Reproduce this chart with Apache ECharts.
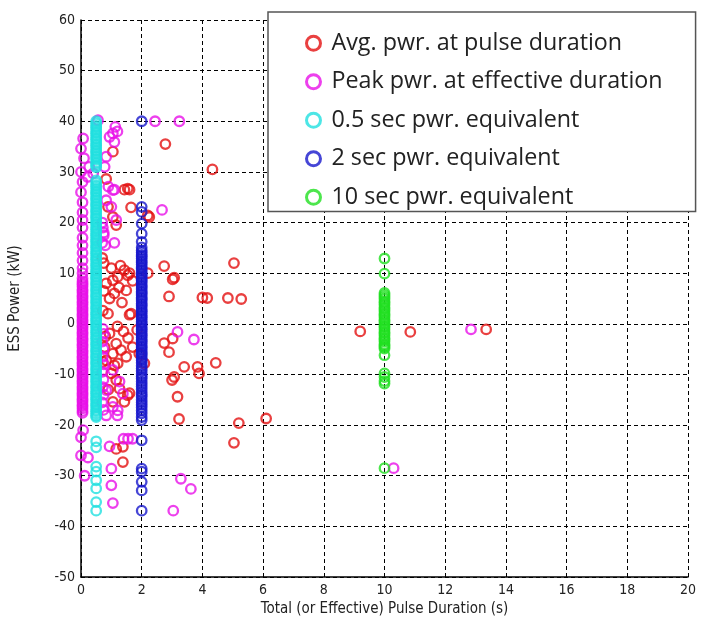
<!DOCTYPE html>
<html>
<head>
<meta charset="utf-8">
<script src="https://cdn.jsdelivr.net/npm/echarts@6/dist/echarts.min.js"></script>
<style>
html, body { margin: 0; padding: 0; background: #fff; }
#main { width: 701px; height: 624px; }
</style>
</head>
<body>
<div id="main"></div>
<script>
var seriesNames = ['Avg. pwr. at pulse duration', 'Peak pwr. at effective duration',
  '0.5 sec pwr. equivalent', '2 sec pwr. equivalent', '10 sec pwr. equivalent'];

// avg power at pulse duration [duration, kW]
var avgPts = [
  [2.78,35.5],[4.33,30.5],[1.05,34],[0.83,28.6],[1.43,26.5],[1.6,26.5],[1.54,26.7],[1.65,23],[0.89,23.1],
  [2.2,21.4],[1.05,21.1],[1.16,19.5],[2.25,21.1],[0.7,13],[0.75,12],
  [2.74,11.4],[2.2,10],[3.07,9.1],[3.02,8.8],[2.9,5.4],[4.0,5.2],[4.16,5.1],[4.84,5.1],[5.28,4.9],[5.04,12],
  [1.43,10.6],[1.54,9.6],[1.05,8.6],[0.83,8.0],[1.49,6.6],[0.94,5.0],[0.72,2.6],[0.89,2.0],[1.21,9.3],
  [1.65,2],[1.6,1.8],[1.3,11.5],[1.0,11],[1.7,8.5],[1.1,6],[1.35,4.2],[0.75,6.5],[1.6,10],[1.25,7.2],
  [0.94,-1.9],[1.16,-3.9],[0.78,-4.6],[1.32,-5.2],[1.05,-5.9],[0.72,-7.5],[1.21,-7.8],[1.0,-9.8],[1.7,-4.6],
  [1.92,-5.9],[2.09,-7.8],[2.74,-3.8],[3.02,-2.9],[2.9,-5.6],[3.4,-8.5],[3.84,-8.5],[3.89,-9.8],[4.44,-7.7],
  [3.07,-10.5],[3.0,-11.1],[3.18,-14.4],[3.23,-18.8],[5.2,-19.6],[6.1,-18.7],[5.04,-23.5],
  [1.16,-11.1],[1.05,-15.4],[1.43,-15.4],[1.54,-14.1],[1.16,-24.7],[1.38,-24.3],[1.38,-27.3],[1.49,-6.5],
  [1.1,-8.2],[0.83,-7.2],[1.27,-12.8],[1.6,-13.7],[0.9,-13],[1.4,-1.5],[1.2,-0.5],[0.8,-2.5],[1.55,-2.8],
  [1.85,-1.2],[9.2,-1.5],[10.85,-1.6],[13.35,-1.1]
];

// peak power at effective duration [duration, kW]
var peakPts = [
  [0.56,40.2],[2.44,40],[3.24,40],[1.13,38.9],[1.05,37.6],[0.94,36.9],[1.1,35.9],[1.2,38],[0.07,36.6],
  [0.0,34.6],[0.1,32.7],[0.27,31],[0.83,33],[0.78,31],[0.22,29],[0.4,29.7],[0.0,26],[1.1,26.5],[0.9,27.1],
  [1.05,26.4],[1.16,20.5],[1.0,23.1],[0.83,24.4],[2.67,22.5],[1.1,16],[0.75,18],[0.8,15.5],[0.7,20],
  [0.0,30],[0.05,28],
  [0.72,19],[0.75,17.5],[0.7,16],[0.72,-1],[0.75,-2],[0.7,-3.5],[0.74,-5],[0.72,-6.5],[0.75,-8],[0.7,-9.5],
  [0.74,-11],[0.72,-12.5],[0.75,-14],[0.7,-15.5],[0.74,-17],
  [1.05,-9.1],[1.27,-11.4],[0.83,-13.1],[1.38,-13.8],[1.05,-16.4],[1.21,-17.1],
  [0.07,-21],[0.0,-22.4],[0.0,-26],[0.23,-26.4],[0.12,-30],[0.94,-24.2],[1.0,-28.6],[1.0,-31.9],[1.05,-35.4],
  [1.4,-22.7],[1.55,-22.7],[1.7,-22.7],[0.83,-18.1],[1.2,-18.1],[3.29,-30.6],[3.62,-32.6],[3.04,-36.9],
  [3.18,-1.6],[3.72,-3.1],[10.3,-28.5],[12.85,-1.1]
];
// the packed column of peak points next to the y axis
var peakColX = 0.05;
var peakColY = [24,22,20.5,19,17,15.5,14,12.5,11,10,9,8.4,8,7.7,7.3,6.8,6.5,6.1,5.6,5.3,4.9,4.4,4.1,3.7,
  3.2,2.9,2.5,2,1.7,1.3,0.8,0.5,0.1,-0.4,-0.7,-1.1,-1.6,-1.9,-2.3,-2.8,-3.1,-3.5,-4,-4.3,-4.7,-5.2,-5.5,
  -5.9,-6.4,-6.7,-7.1,-7.6,-7.9,-8.3,-8.8,-9.1,-9.5,-10,-10.3,-10.7,-11.2,-11.5,-11.9,-12.4,-12.7,-13.1,
  -13.6,-13.9,-14.3,-14.8,-15.1,-15.5,-16,-16.3,-16.7,-17.2,-17.6];

// equivalent powers, one duration each
var cyanX = 0.5;
var cyanY = [40,39.6,39.1,38.8,38.4,37.9,37.6,37.2,36.7,36.4,36,35.5,35.2,34.8,34.3,34,33.6,33.1,32.8,
  32.4,31.9,31.6,31.2,30.9,
  28.3,27.9,27.4,27.1,26.7,26.2,25.9,25.5,25,24.7,24.3,23.8,23.5,23.1,22.6,22.3,21.9,21.4,21.1,20.7,
  20.2,19.9,19.5,19,18.7,18.3,17.8,17.5,17.1,16.6,16.3,15.9,15.4,15.1,14.7,14.2,13.9,13.5,13,12.7,12.3,
  11.8,11.5,11.1,10.6,10.3,9.9,9.4,9.1,8.7,8.2,7.9,7.5,7,6.7,6.3,5.8,5.5,5.1,4.6,4.3,3.9,3.4,3.1,2.7,
  2.2,1.9,1.5,1,0.7,0.3,-0.2,-0.5,-0.9,-1.4,-1.7,-2.1,-2.6,-2.9,-3.3,-3.8,-4.1,-4.5,-5,-5.3,-5.7,-6.2,
  -6.5,-6.9,-7.4,-7.7,-8.1,-8.6,-8.9,-9.3,-9.8,-10.1,-10.5,-11,-11.3,-11.7,-12.2,-12.5,-12.9,-13.4,
  -13.7,-14.1,-14.6,-14.9,-15.3,-15.8,-16.1,-16.5,-17,-17.3,-17.7,-18.1,-18.4,
  -23.2,-24.4,-28.2,-29.2,-30.9,-32.5,-35.2,-36.9];

var blueX = 2;
var blueY = [40,23.1,22.1,19.8,17.8,16.2,15.1,14.5,14.1,13.6,13.3,12.9,12.4,12.1,11.7,11.2,10.9,10.5,
  10,9.7,9.3,8.8,8.5,8.1,7.6,7.3,6.9,6.4,6.1,5.7,5.2,4.9,4.5,4,3.7,3.3,2.8,2.5,2.1,1.6,1.3,0.9,0.4,0.1,
  -0.3,-0.8,-1.1,-1.5,-2,-2.3,-2.7,-3.2,-3.5,-3.9,-4.4,-4.7,-5.1,-5.6,-5.9,-6.3,-6.8,-7.2,-7.7,-8.3,
  -8.8,-9.3,-9.9,-10.4,-10.8,-11.4,-11.9,-12.4,-12.9,-13.5,-14,-14.4,-15,-15.5,-16,-16.5,-17.1,-17.7,
  -18.4,-19,-23,-28.6,-29.2,-31.2,-32.9,-36.9];

var greenX = 10;
var greenY = [12.9,9.9,6.1,5.7,5.3,4.9,4.4,4.1,3.7,3.2,2.9,2.5,2,1.7,1.3,0.8,0.5,0.1,-0.4,-0.7,-1.1,-1.6,
  -1.9,-2.3,-2.8,-3.1,-3.5,-4,-4.3,-4.6,-4.9,-6.2,-9.8,-10.5,-11.3,-11.8,-28.5];

var colors = ['#e41010', '#e810e8', '#20e0e0', '#1818cc', '#20e020'];

function colPts(x, ys) {
  return ys.map(function (y) { return [x, y]; });
}

var allData = [avgPts, peakPts.concat(colPts(peakColX, peakColY)), colPts(cyanX, cyanY),
  colPts(blueX, blueY), colPts(greenX, greenY)];

var tickFont = "'Liberation Sans Narrow', 'DejaVu Sans Condensed', sans-serif";

var option = {
  animation: false,
  backgroundColor: '#fff',
  grid: { left: 78, right: 13, top: 20, bottom: 47 },
  legend: {
    orient: 'vertical',
    left: 268,
    top: 12,
    data: seriesNames,
    icon: 'circle',
    itemWidth: 14,
    itemHeight: 14,
    itemGap: 14,
    padding: [19, 33, 2, 37],
    borderColor: '#555',
    borderWidth: 1.5,
    backgroundColor: '#fff',
    itemStyle: { borderWidth: 3 },
    textStyle: { fontFamily: "'Open Sans', sans-serif", fontSize: 23.3, color: '#222', lineHeight: 24.5, padding: [0, 0, 0, 6] }
  },
  xAxis: {
    type: 'value',
    min: 0, max: 20, interval: 2,
    name: 'Total (or Effective) Pulse Duration (s)',
    nameLocation: 'middle',
    nameGap: 22,
    nameTextStyle: { fontFamily: tickFont, fontSize: 15, color: '#222' },
    axisLine: { onZero: false, lineStyle: { color: '#000', width: 1.5 } },
    axisTick: { show: false },
    axisLabel: { fontFamily: tickFont, fontSize: 14, color: '#222', margin: 6 },
    splitLine: { show: true, lineStyle: { color: '#000', type: [4, 3], width: 1 } }
  },
  yAxis: {
    type: 'value',
    min: -50, max: 60, interval: 10,
    name: 'ESS Power (kW)',
    nameLocation: 'middle',
    nameGap: 58,
    nameTextStyle: { fontFamily: tickFont, fontSize: 15, color: '#222' },
    axisLine: { show: true, onZero: false, lineStyle: { color: '#000', width: 1.5 } },
    axisTick: { show: false },
    axisLabel: { fontFamily: tickFont, fontSize: 14, color: '#222', margin: 6 },
    splitLine: { show: true, lineStyle: { color: '#000', type: [4, 3], width: 1 } }
  },
  series: seriesNames.map(function (name, i) {
    return {
      name: name,
      type: 'scatter',
      symbol: 'circle',
      symbolSize: 9.5,
      // hollow rings with a see-through middle, as in the source plot
      itemStyle: { color: 'rgba(255,255,255,0)', borderColor: colors[i], borderWidth: 2.3 },
      data: allData[i]
    };
  })
};

var myChart = echarts.init(document.getElementById('main'));
myChart.setOption(option);
</script>
</body>
</html>
